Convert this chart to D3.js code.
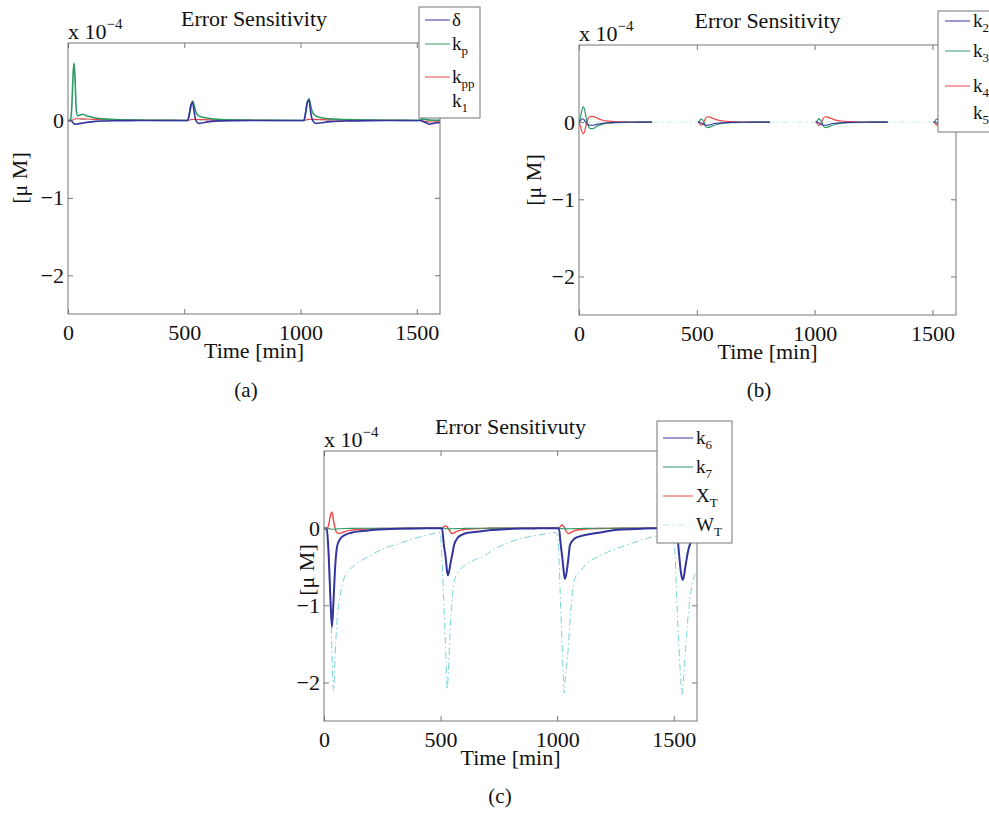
<!DOCTYPE html>
<html>
<head>
<meta charset="utf-8">
<script src="https://cdn.jsdelivr.net/npm/d3@7"></script>
<style>
  body { margin: 0; background: #fff; }
  svg { font-family: "Liberation Serif", "DejaVu Serif", serif; }
</style>
</head>
<body>
<svg id="chart" width="989" height="815"></svg>
<script>
// shared ticks
const xTicks = [0, 500, 1000, 1500]
const yTicks = [-2, -1, 0]
const yTickLabels = ['\u22122', '\u22121', '0']

// panel (a)
const timeA = [0, 10, 16, 22, 26, 30, 36, 42, 52, 62, 80, 110, 150, 200, 260, 330, 420, 500,
  515, 522, 530, 536, 542, 550, 562, 580, 610, 660, 720, 800, 900, 1000,
  1015, 1022, 1030, 1037, 1043, 1052, 1066, 1090, 1130, 1200, 1300, 1400, 1500,
  1515, 1525, 1540, 1555, 1570, 1585, 1600]
const deltaA = [0, 0, -0.01, -0.03, -0.04, -0.05, -0.05, -0.045, -0.04, -0.035, -0.025, -0.015, -0.008, -0.004, -0.002, -0.001, 0, 0,
  0, 0.09, 0.21, 0.23, 0.12, 0, -0.04, -0.03, -0.015, -0.006, -0.003, -0.001, 0, 0,
  0, 0.1, 0.24, 0.26, 0.12, 0, -0.04, -0.03, -0.015, -0.006, -0.002, -0.001, 0,
  0, -0.01, -0.03, -0.05, -0.04, -0.03, -0.03]
const kpA = [0, 0, 0.15, 0.6, 0.74, 0.55, 0.12, 0.06, 0.07, 0.08, 0.06, 0.035, 0.02, 0.012, 0.006, 0.003, 0.001, 0,
  0, 0.08, 0.2, 0.25, 0.2, 0.11, 0.06, 0.04, 0.025, 0.012, 0.006, 0.003, 0.001, 0,
  0, 0.1, 0.24, 0.28, 0.2, 0.1, 0.06, 0.035, 0.02, 0.01, 0.004, 0.002, 0,
  0.005, 0.02, 0.01, 0.005, 0.003, 0.002, 0.001]
const kppA = [0, 0, 0.005, 0.01, 0.015, 0.02, 0.022, 0.022, 0.02, 0.02, 0.018, 0.014, 0.01, 0.006, 0.004, 0.002, 0.001, 0,
  0, 0.005, 0.01, 0.012, 0.014, 0.014, 0.012, 0.01, 0.007, 0.004, 0.002, 0.001, 0, 0,
  0, 0.005, 0.01, 0.013, 0.015, 0.015, 0.012, 0.01, 0.007, 0.004, 0.002, 0.001, 0,
  0, -0.005, -0.015, -0.02, -0.02, -0.018, -0.015]
const k1A = [0, 0.01, 0.03, 0.05, 0.055, 0.05, 0.035, 0.025, 0.018, 0.014, 0.01, 0.006, 0.004, 0.002, 0.001, 0, 0, 0,
  0, 0.01, 0.02, 0.02, 0.015, 0.01, 0.006, 0.004, 0.002, 0.001, 0, 0, 0, 0,
  0, 0.01, 0.02, 0.02, 0.015, 0.01, 0.006, 0.004, 0.002, 0.001, 0, 0, 0,
  0, 0.005, 0.01, 0.005, 0.003, 0.002, 0.001]

// panel (b) - null where the solid lines break off
const timeB = [0, 6, 12, 18, 24, 30, 38, 46, 56, 68, 82, 100, 125, 160, 210, 260, 310,
  400,
  505, 512, 518, 524, 530, 537, 545, 555, 568, 585, 610, 650, 700, 760, 810,
  900,
  1005, 1012, 1018, 1024, 1030, 1037, 1045, 1055, 1068, 1085, 1110, 1150, 1200, 1260, 1310,
  1400,
  1505, 1512, 1518, 1524, 1530, 1545, 1570, 1600]
const k2B = [0, 0.02, 0.04, 0.04, 0.02, -0.01, -0.03, -0.04, -0.04, -0.035, -0.025, -0.014, -0.007, -0.003, -0.001, 0, 0,
  null,
  0, 0, -0.01, -0.02, -0.03, -0.04, -0.04, -0.035, -0.025, -0.015, -0.008, -0.003, -0.001, 0, 0,
  null,
  0, 0, -0.01, -0.02, -0.03, -0.04, -0.04, -0.035, -0.025, -0.015, -0.008, -0.003, -0.001, 0, 0,
  null,
  0, 0, -0.01, -0.02, -0.03, -0.04, -0.025, -0.01]
const k3B = [0, 0.06, 0.15, 0.2, 0.16, 0.06, -0.04, -0.08, -0.085, -0.07, -0.045, -0.025, -0.012, -0.005, -0.002, -0.001, 0,
  null,
  0, 0.02, 0.04, 0.03, 0, -0.05, -0.07, -0.065, -0.05, -0.03, -0.015, -0.006, -0.002, -0.001, 0,
  null,
  0, 0.02, 0.045, 0.03, 0, -0.05, -0.07, -0.065, -0.05, -0.03, -0.015, -0.006, -0.002, -0.001, 0,
  null,
  0, 0.02, 0.04, 0.03, 0, -0.07, -0.05, -0.02]
const k4B = [0, -0.05, -0.12, -0.15, -0.12, -0.04, 0.04, 0.07, 0.075, 0.065, 0.045, 0.025, 0.012, 0.005, 0.002, 0.001, 0,
  null,
  0, -0.02, -0.04, -0.03, 0, 0.05, 0.07, 0.065, 0.05, 0.03, 0.015, 0.006, 0.002, 0.001, 0,
  null,
  0, -0.02, -0.045, -0.03, 0, 0.05, 0.07, 0.065, 0.05, 0.03, 0.015, 0.006, 0.002, 0.001, 0,
  null,
  0, -0.02, -0.04, -0.03, 0, 0.07, 0.05, 0.02]
const k5B = [0, 0, 0, 0, 0, 0, 0, 0, 0, 0, 0, 0, 0, 0, 0, 0, 0,
  0,
  0, 0, 0, 0, 0, 0, 0, 0, 0, 0, 0, 0, 0, 0, 0,
  0,
  0, 0, 0, 0, 0, 0, 0, 0, 0, 0, 0, 0, 0, 0, 0,
  0,
  0, 0, 0, 0, 0, 0, 0, 0]

// panel (c)
const timeC = [0, 12, 20, 28, 34, 41, 48, 56, 67, 89, 117, 189, 260, 332, 403, 475, 498,
  506, 515, 521, 529, 532, 543, 549, 558, 575, 589, 618, 646, 689, 717, 789, 850, 919, 991, 1000,
  1008, 1015, 1022, 1031, 1034, 1048, 1055, 1070, 1077, 1105, 1120, 1177, 1249, 1277, 1377, 1427, 1498,
  1506, 1513, 1522, 1530, 1537, 1540, 1550, 1563, 1575, 1592, 1600]
const k6C = [0, -0.02, -0.35, -0.95, -1.28, -0.93, -0.5, -0.24, -0.15, -0.09, -0.06, -0.03, -0.015, -0.008, -0.004, -0.002, -0.001,
  -0.01, -0.24, -0.36, -0.58, -0.61, -0.45, -0.36, -0.22, -0.12, -0.09, -0.06, -0.05, -0.035, -0.025, -0.012, -0.006, -0.003, -0.001, 0,
  -0.01, -0.2, -0.38, -0.62, -0.66, -0.4, -0.22, -0.15, -0.13, -0.1, -0.09, -0.06, -0.025, -0.018, -0.006, -0.003, -0.001,
  -0.005, -0.03, -0.3, -0.55, -0.66, -0.67, -0.5, -0.28, -0.17, -0.11, -0.09]
const k7C = [0, 0, -0.005, -0.01, -0.015, -0.015, -0.012, -0.01, -0.008, -0.005, -0.003, -0.002, -0.001, 0, 0, 0, 0,
  0, -0.003, -0.006, -0.008, -0.009, -0.009, -0.008, -0.007, -0.005, -0.004, -0.003, -0.002, -0.001, 0, 0, 0, 0, 0, 0,
  0, -0.003, -0.006, -0.008, -0.009, -0.009, -0.008, -0.006, -0.005, -0.004, -0.003, -0.002, -0.001, 0, 0, 0, 0,
  0, -0.003, -0.006, -0.008, -0.009, -0.009, -0.008, -0.006, -0.005, -0.004, -0.003]
const xTC = [0, 0, 0.04, 0.17, 0.21, 0.1, -0.01, -0.06, -0.07, -0.045, -0.025, -0.01, -0.005, -0.003, -0.001, 0, 0,
  0, 0.02, 0.03, 0.015, 0, -0.05, -0.07, -0.06, -0.035, -0.025, -0.012, -0.007, -0.003, -0.002, -0.001, 0, 0, 0, 0,
  0.005, 0.025, 0.04, 0.01, -0.01, -0.07, -0.06, -0.04, -0.03, -0.018, -0.012, -0.005, -0.002, -0.001, 0, 0, 0,
  0, 0.02, 0.04, 0.01, -0.03, -0.05, -0.07, -0.05, -0.03, -0.015, -0.01]
const wTC = [0, 0, -0.2, -0.9, -1.6, -2.11, -1.63, -1.2, -0.92, -0.63, -0.52, -0.37, -0.26, -0.19, -0.12, -0.07, -0.06,
  -0.4, -1.05, -1.5, -2.09, -1.95, -1.22, -0.95, -0.7, -0.57, -0.52, -0.46, -0.41, -0.36, -0.3, -0.19, -0.13, -0.09, -0.06, -0.07,
  -0.4, -1.0, -1.55, -2.14, -2.0, -1.55, -1.22, -0.74, -0.65, -0.54, -0.48, -0.37, -0.27, -0.24, -0.14, -0.1, -0.06,
  -0.35, -0.9, -1.5, -1.95, -2.15, -2.05, -1.6, -1.1, -0.8, -0.6, -0.57]

const BLUE = '#34349e'
const GREEN = '#2e9a64'
const RED = '#ee4646'
const CYAN = '#7ad4d4'
const PALECYAN = '#c4ecec'
const DASHDOT = '7,3,1.5,3'
const AXIS = '#777'

const svg = d3.select('#chart')

const panels = [
  {
    id: 'a', left: 68, right: 440, top: 43, bottom: 314,
    title: 'Error Sensitivity', caption: '(a)', captionX: 246, captionY: 397,
    ylabelX: 27, ylabelY: 178,
    time: timeA,
    series: [
      {name: '\u03b4', sub: '', values: deltaA, color: BLUE, width: 1.6},
      {name: 'k', sub: 'p', values: kpA, color: GREEN, width: 1.6},
      {name: 'k', sub: 'pp', values: kppA, color: RED, width: 1.1},
      {name: 'k', sub: '1', values: k1A, color: CYAN, width: 1, dash: DASHDOT, legendColor: 'none'}
    ],
    legend: {x: 419, y: 7, w: 61, h: 111, lx: 425, lw: 25, tx: 452, rows: [20, 44, 77, 101]}
  },
  {
    id: 'b', left: 579, right: 956, top: 45, bottom: 315,
    title: 'Error Sensitivity', caption: '(b)', captionX: 759, captionY: 397,
    ylabelX: 541, ylabelY: 180,
    time: timeB,
    series: [
      {name: 'k', sub: '2', values: k2B, color: BLUE, width: 1.1},
      {name: 'k', sub: '3', values: k3B, color: GREEN, width: 1.2},
      {name: 'k', sub: '4', values: k4B, color: RED, width: 1.2},
      {name: 'k', sub: '5', values: k5B, color: PALECYAN, width: 1, dash: DASHDOT, legendColor: 'none'}
    ],
    legend: {x: 938, y: 11, w: 70, h: 121, lx: 945, lw: 25, tx: 973, rows: [21, 51, 86, 113]}
  },
  {
    id: 'c', left: 324, right: 697, top: 451, bottom: 721,
    title: 'Error Sensitivuty', caption: '(c)', captionX: 500, captionY: 803,
    ylabelX: 314, ylabelY: 570,
    time: timeC,
    series: [
      {name: 'k', sub: '6', values: k6C, color: BLUE, width: 2},
      {name: 'k', sub: '7', values: k7C, color: GREEN, width: 1.1},
      {name: 'X', sub: 'T', values: xTC, color: RED, width: 1.4},
      {name: 'W', sub: 'T', values: wTC, color: CYAN, width: 1, dash: DASHDOT, legendColor: PALECYAN}
    ],
    legend: {x: 657, y: 421, w: 75, h: 122, lx: 663, lw: 30, tx: 696, rows: [438, 467, 496, 525]}
  }
]

panels.forEach(drawPanel)

function drawPanel(p) {
  const x = d3.scaleLinear().domain([0, 1600]).range([p.left, p.right])
  const y = d3.scaleLinear().domain([-2.5, 1]).range([p.bottom, p.top])

  svg.append('clipPath').attr('id', 'clip-' + p.id)
    .append('rect')
    .attr('x', p.left).attr('y', p.top)
    .attr('width', p.right - p.left).attr('height', p.bottom - p.top)

  const line = d3.line()
    .defined(d => d[1] !== null)
    .x(d => x(d[0]))
    .y(d => y(d[1]))
    .curve(d3.curveMonotoneX)

  const plot = svg.append('g').attr('clip-path', `url(#clip-${p.id})`)
  // last series first so blue/green sit on top like the original
  p.series.slice().reverse().forEach(s => {
    plot.append('path')
      .datum(p.time.map((t, i) => [t, s.values[i]]))
      .attr('d', line)
      .attr('fill', 'none')
      .attr('stroke', s.color)
      .attr('stroke-width', s.width)
      .attr('stroke-dasharray', s.dash || null)
  })

  // axes, ticks pointing inward
  const axB = svg.append('g').attr('transform', `translate(0,${p.bottom})`)
    .call(d3.axisBottom(x).tickValues(xTicks).tickSizeInner(-5).tickSizeOuter(0).tickPadding(10)
      .tickFormat(d3.format('d')))
  const axT = svg.append('g').attr('transform', `translate(0,${p.top})`)
    .call(d3.axisTop(x).tickValues(xTicks).tickSizeInner(-5).tickSizeOuter(0).tickFormat(''))
  const axL = svg.append('g').attr('transform', `translate(${p.left},0)`)
    .call(d3.axisLeft(y).tickValues(yTicks).tickSizeInner(-5).tickSizeOuter(0).tickPadding(4)
      .tickFormat((d, i) => yTickLabels[i]))
  const axR = svg.append('g').attr('transform', `translate(${p.right},0)`)
    .call(d3.axisRight(y).tickValues(yTicks).tickSizeInner(-5).tickSizeOuter(0).tickFormat(''))

  ;[axB, axT, axL, axR].forEach(a => {
    a.attr('font-family', null)
    a.select('.domain').remove()
    a.selectAll('line').attr('stroke', AXIS)
    a.selectAll('text')
      .attr('font-size', 22)
      .attr('fill', '#111')
  })

  svg.append('rect')
    .attr('x', p.left).attr('y', p.top)
    .attr('width', p.right - p.left).attr('height', p.bottom - p.top)
    .attr('fill', 'none')
    .attr('stroke', AXIS)
    .attr('stroke-width', 1)

  // title
  svg.append('text')
    .attr('x', (p.left + p.right) / 2).attr('y', p.top - 17)
    .attr('text-anchor', 'middle')
    .attr('font-size', 22)
    .attr('fill', '#111')
    .text(p.title)

  // exponent
  const ex = svg.append('text')
    .attr('x', p.left).attr('y', p.top - 4)
    .attr('font-size', 22)
    .attr('fill', '#111')
  ex.append('tspan').text('x 10')
  ex.append('tspan').attr('dy', -10).attr('font-size', 15).text('\u22124')

  // x label
  svg.append('text')
    .attr('x', (p.left + p.right) / 2).attr('y', p.bottom + 44)
    .attr('text-anchor', 'middle')
    .attr('font-size', 22)
    .attr('fill', '#111')
    .text('Time [min]')

  // y label
  svg.append('text')
    .attr('transform', `translate(${p.ylabelX},${p.ylabelY}) rotate(-90)`)
    .attr('text-anchor', 'middle')
    .attr('font-size', 22)
    .attr('fill', '#111')
    .text('[\u03bc M]')

  // caption
  svg.append('text')
    .attr('x', p.captionX).attr('y', p.captionY)
    .attr('text-anchor', 'middle')
    .attr('font-size', 21)
    .attr('fill', '#111')
    .text(p.caption)

  // legend
  const lg = p.legend
  const leg = svg.append('g')
  leg.append('rect')
    .attr('x', lg.x).attr('y', lg.y)
    .attr('width', lg.w).attr('height', lg.h)
    .attr('fill', '#fff')
    .attr('stroke', AXIS)
  p.series.forEach((s, i) => {
    const ry = lg.rows[i]
    leg.append('line')
      .attr('x1', lg.lx).attr('x2', lg.lx + lg.lw)
      .attr('y1', ry).attr('y2', ry)
      .attr('stroke', s.legendColor || s.color)
      .attr('stroke-width', 1)
      .attr('stroke-dasharray', s.dash || null)
    const t = leg.append('text')
      .attr('x', lg.tx).attr('y', ry + 6)
      .attr('font-size', 19)
      .attr('fill', '#111')
    t.append('tspan').text(s.name)
    if (s.sub) t.append('tspan').attr('dy', 5).attr('font-size', 13).text(s.sub)
  })
}
</script>
</body>
</html>
